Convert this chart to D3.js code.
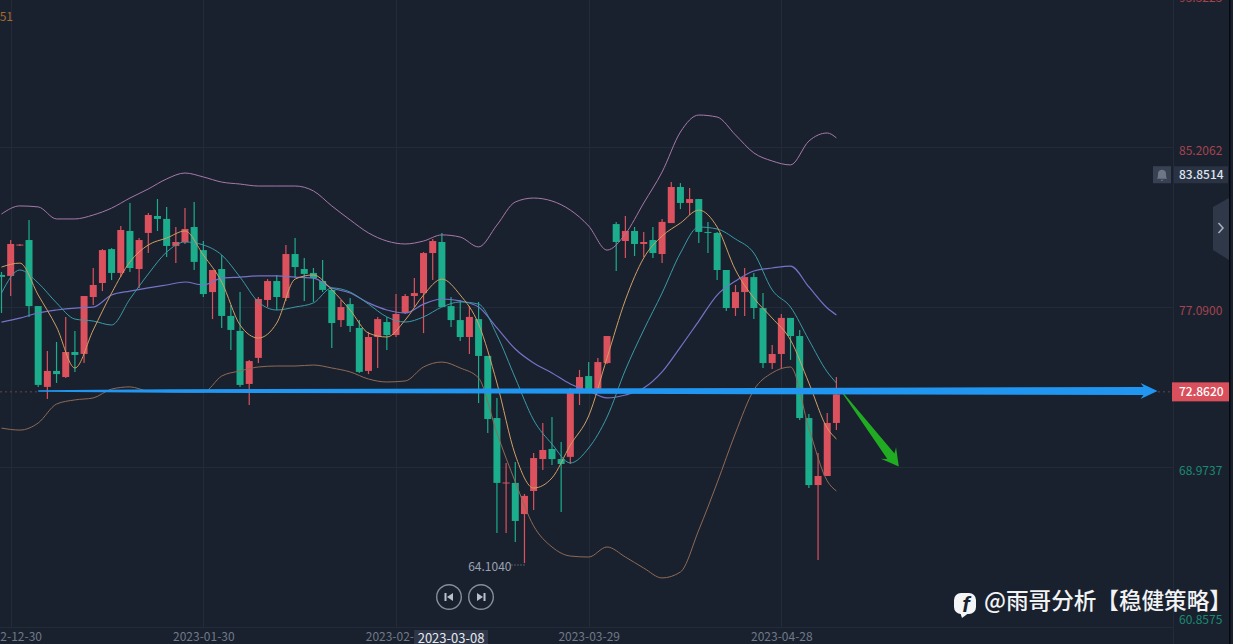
<!DOCTYPE html>
<html><head><meta charset="utf-8">
<style>html,body{margin:0;padding:0;background:#1a212e;overflow:hidden}svg{display:block}text{font-family:"Noto Sans CJK SC","Noto Sans",sans-serif}</style>
<script src="https://cdnjs.cloudflare.com/ajax/libs/d3/7.8.5/d3.min.js"></script>
</head><body><svg id="c" width="1233" height="644"></svg>
<script>
const opens=[78.92,78.87,80.41,80.69,77.34,73.24,74.05,73.74,75.01,74.91,77.80,78.51,80.23,79.02,81.15,79.22,81.05,81.91,81.76,80.39,80.59,81.35,80.18,78.05,79.22,76.84,76.08,73.39,74.71,77.65,78.61,77.75,79.98,79.22,79.02,78.61,78.16,76.63,77.44,76.23,74.05,75.77,76.53,75.87,76.99,77.85,78.00,80.03,80.59,77.34,76.63,75.77,76.68,74.81,71.66,68.34,68.37,66.79,67.96,69.58,70.09,69.58,69.69,73.08,73.79,73.13,74.45,81.50,80.64,81.15,80.49,80.69,79.98,81.55,83.38,82.57,82.77,81.10,81.05,79.17,77.24,78.05,78.81,77.24,74.45,74.91,76.74,75.82,71.66,68.26,68.72,71.41];
const highs=[79.07,80.69,80.49,81.71,77.34,75.06,75.52,76.79,76.08,77.85,79.27,80.23,80.28,81.40,82.57,80.79,82.06,82.77,82.36,81.35,82.31,82.62,80.64,79.17,79.93,77.39,78.05,74.61,77.80,78.71,78.92,80.44,80.79,79.78,79.27,79.68,78.26,77.65,77.75,76.63,76.03,76.79,76.79,77.95,77.95,78.76,80.08,80.74,81.05,77.80,77.65,77.34,77.55,74.81,72.68,69.38,69.43,67.81,69.89,71.41,71.71,70.44,73.18,74.10,74.50,74.71,75.82,81.61,81.91,81.35,81.10,81.35,81.76,83.63,83.58,83.33,82.77,81.61,81.10,79.17,78.41,79.27,79.02,78.00,75.37,76.94,76.74,76.13,71.87,69.89,71.92,73.74];
const lows=[76.99,77.85,80.39,76.79,73.24,72.63,73.44,73.69,74.00,74.45,77.39,78.10,78.66,78.81,79.07,78.26,80.03,81.15,79.83,79.52,80.49,79.17,77.80,76.68,76.23,75.11,73.24,72.32,74.45,77.29,77.14,77.60,78.76,77.60,77.55,78.05,75.21,76.28,76.03,73.95,73.89,74.20,75.11,75.77,76.94,77.29,75.97,78.66,77.29,76.28,75.57,74.91,72.42,70.90,65.83,65.83,65.37,64.30,67.00,69.02,69.28,66.89,69.33,72.32,73.08,73.08,74.40,79.12,79.78,79.88,79.83,79.78,79.52,81.55,82.26,81.96,80.54,80.03,78.66,77.09,76.84,76.84,76.68,74.20,74.15,74.15,74.61,71.56,68.11,64.46,68.72,71.05];
const closes=[78.82,80.49,80.46,77.34,73.34,74.05,73.89,75.01,74.86,77.85,78.41,80.18,79.02,81.20,79.27,80.69,81.96,81.76,80.39,80.59,81.25,79.58,77.95,79.17,76.84,76.13,73.34,74.55,77.70,78.61,77.80,79.98,79.32,78.97,78.76,78.16,76.48,77.29,76.33,74.00,75.77,76.68,75.87,76.94,77.85,78.00,80.03,80.64,77.29,76.63,75.77,76.79,74.81,71.61,68.37,68.39,66.44,67.71,69.63,70.04,69.58,69.33,72.93,73.74,73.08,74.50,75.82,80.59,81.15,80.49,80.59,80.03,81.61,83.38,82.57,82.77,81.10,81.05,79.17,77.24,78.05,78.81,77.24,74.45,74.91,76.74,75.82,71.66,68.26,68.72,71.41,72.86];
const lineIndex=[0,2,4,6,8,10,12,14,16,18,20,22,24,26,28,30,32,34,36,38,40,42,44,46,48,50,52,54,56,58,60,62,64,66,68,70,72,74,76,78,80,82,84,86,88,90,91];
const upperBand=[82.01,82.42,82.37,81.76,81.76,81.96,82.31,82.82,83.28,83.79,84.09,83.89,83.63,83.53,83.43,83.43,83.43,83.18,82.42,81.71,81.05,80.64,80.49,80.64,80.95,80.84,80.34,81.45,82.62,82.82,82.67,82.21,81.40,80.18,81.00,82.57,84.14,86.17,87.03,86.93,86.02,85.11,84.70,84.50,85.71,86.12,85.87];
const midBand=[76.53,76.73,76.99,77.14,77.24,77.29,77.90,78.10,78.26,78.41,78.56,78.41,78.76,78.81,78.87,78.87,78.81,78.76,78.26,78.00,77.50,77.14,76.99,77.44,77.70,77.60,77.29,76.23,75.16,74.45,73.95,73.39,73.03,72.68,72.83,73.18,74.00,75.26,76.58,77.90,78.61,79.12,79.27,79.37,78.31,77.24,76.89];
const lowerBand=[71.15,71.05,71.41,72.37,72.58,72.68,73.13,73.24,73.03,73.00,72.98,72.98,73.79,74.05,74.25,74.30,74.30,74.35,74.20,74.00,73.64,73.49,73.54,74.25,74.50,74.20,73.69,70.90,68.42,66.19,65.12,64.66,64.61,65.12,64.61,64.05,63.55,63.85,65.98,68.37,70.90,73.08,73.95,74.25,71.15,68.47,67.96];
const fastMA=[79.32,79.52,77.90,76.28,74.20,76.13,78.00,79.58,80.44,80.79,81.15,79.93,78.56,76.38,75.72,76.48,78.71,78.92,78.16,77.14,75.97,75.77,76.63,77.90,78.71,77.90,76.43,73.44,69.79,68.11,68.62,70.29,71.77,74.71,77.65,79.78,80.89,81.55,82.21,81.35,79.17,77.75,76.73,75.62,73.44,71.15,70.60];
const slowMA=[78.00,79.17,78.51,77.50,76.68,76.58,76.38,77.70,78.97,80.08,80.59,80.44,79.93,78.81,77.55,77.14,77.29,77.50,78.26,78.05,77.44,76.79,76.53,76.79,77.29,77.55,77.44,75.87,73.69,71.56,70.34,69.38,70.14,71.71,74.10,76.13,78.00,80.03,81.35,81.25,80.74,80.03,78.16,77.29,75.62,74.00,73.44];
const timeTickIndex=[1,22,43,64,85];
const timeTickLabels=["2022-12-30","2023-01-30","2023-02-17","2023-03-29","2023-04-28"];
const priceTicks=[93.3225,85.2062,77.0900,68.9737,60.8575];
const lastPrice=72.8620, alertPrice=83.8514, lowestPrice=64.1040, lowestIndex=57;
const crosshairDate="2023-03-08", crosshairIndex=49;
const levelArrow={fromIndex:4,toIndex:126,price:73.03};
const dropArrow={fromIndex:91.75,toIndex:97.8,fromPrice:72.9,toPrice:69.2};
const watermark="@雨哥分析【稳健策略】";

const svg=d3.select("#c");
const x=d3.scaleLinear().domain([0,91]).range([1.5,836.4]);
const y=d3.scaleLinear().domain([92.866,60.401]).range([0,640]);
const UP="#db515d",DOWN="#1bad8c",GRID="#232b39";
const gridShift=-4;

// grid
const grid=svg.append("g").attr("stroke",GRID).attr("stroke-width",1);
grid.selectAll("line.h").data(priceTicks.slice(1)).join("line").attr("class","h")
  .attr("x1",0).attr("x2",1173).attr("y1",d=>Math.round(y(d)+gridShift)+.5).attr("y2",d=>Math.round(y(d)+gridShift)+.5);
grid.selectAll("line.v").data(timeTickIndex).join("line").attr("class","v")
  .attr("x1",d=>Math.round(x(d))+.5).attr("x2",d=>Math.round(x(d))+.5).attr("y1",0).attr("y2",628);
grid.append("line").attr("x1",1173.5).attr("x2",1173.5).attr("y1",0).attr("y2",644);

// candles
const idx=d3.range(opens.length);
const color=i=>closes[i]>=opens[i]?UP:DOWN;
const candles=svg.append("g");
candles.selectAll("line").data(idx).join("line")
  .attr("x1",i=>x(i)).attr("x2",i=>x(i)).attr("y1",i=>y(highs[i])).attr("y2",i=>y(lows[i]))
  .attr("stroke",color).attr("stroke-width",1.2);
candles.selectAll("rect").data(idx).join("rect")
  .attr("x",i=>x(i)-3.5).attr("width",7)
  .attr("y",i=>y(Math.max(opens[i],closes[i])))
  .attr("height",i=>Math.max(1,y(Math.min(opens[i],closes[i]))-y(Math.max(opens[i],closes[i]))))
  .attr("fill",color);

// indicator lines
const lineGen=d3.line().x((d,i)=>x(lineIndex[i])).y(d=>y(d)).curve(d3.curveMonotoneX);
[[lowerBand,"#8f6a55",1],[upperBand,"#a679a8",1],[midBand,"#7473c8",1.2],[slowMA,"#3a9aa6",1],[fastMA,"#d09f64",1]]
 .forEach(([s,c,w])=>svg.append("path").attr("d",lineGen(s)).attr("fill","none").attr("stroke",c).attr("stroke-width",w));

// last price dotted lead
const lastY=y(lastPrice)-2.5;
svg.append("line").attr("x1",0).attr("x2",38).attr("y1",lastY).attr("y2",lastY).attr("stroke","#6a4049").attr("stroke-dasharray","2 3");
svg.append("line").attr("x1",1158).attr("x2",1172).attr("y1",lastY).attr("y2",lastY).attr("stroke","#6a4049").attr("stroke-dasharray","2 3");

// lowest price marker
const lowX=x(lowestIndex),lowY=y(lowestPrice)-2;
svg.append("line").attr("x1",lowX-13).attr("x2",lowX).attr("y1",lowY).attr("y2",lowY).attr("stroke","#8a93a3").attr("stroke-dasharray","1 2");
svg.append("text").attr("x",lowX-13).attr("y",lowY+2).attr("dy","0.35em").attr("text-anchor","end").attr("font-size",12).attr("fill","#9aa3b2").text(lowestPrice.toFixed(4));

// hand drawn arrows
function poly(pts,fill){svg.append("path").attr("d",d3.line()(pts)+"Z").attr("fill",fill);}
(function(){
  const ax=x(dropArrow.fromIndex),ay=y(dropArrow.fromPrice),tx=x(dropArrow.toIndex),ty=y(dropArrow.toPrice);
  const len=Math.hypot(tx-ax,ty-ay),ux=(tx-ax)/len,uy=(ty-ay)/len,nx=-uy,ny=ux;
  const p=(d,w)=>[ax+ux*d+nx*w,ay+uy*d+ny*w];
  poly([p(0,.5),p(len-13,4.5),p(len-17,9.5),p(len,0),p(len-17,-9.5),p(len-13,-4.5),p(0,-.5)],"#20ab22");
  const x0=x(levelArrow.fromIndex),x1=x(levelArrow.toIndex),c=y(levelArrow.price);
  poly([[x0,c-.8],[x0+130,c-1.8],[x1-14,c-4],[x1-17,c-8],[x1,c],[x1-17,c+8],[x1-14,c+4],[x0+130,c+1.8],[x0,c+.8]],"#2196f0");
})();

// price axis
const pa=svg.append("g");
pa.selectAll("text").data(priceTicks).join("text").attr("x",1179)
  .attr("y",d=>Math.max(-2,Math.min(620,y(d)))).attr("dy","0.35em").attr("font-size",12)
  .attr("fill",d=>d>lastPrice?"#a5444f":"#1a8a72").text(d=>d.toFixed(4));

// time axis
const ta=svg.append("g").attr("transform","translate(0,627)").call(d3.axisBottom(x).tickValues(timeTickIndex).tickFormat((d,i)=>timeTickLabels[i]).tickSize(0));
ta.select(".domain").attr("stroke",GRID).attr("d","M0,0.5H1173");
ta.selectAll("text").attr("y",5).attr("font-size",12).attr("font-family",'"Noto Sans CJK SC"').attr("fill","#6f7989");
const chX=x(crosshairIndex);
svg.append("rect").attr("x",chX-37).attr("y",630).attr("width",74).attr("height",14).attr("fill","#2e3647");
svg.append("text").attr("x",chX).attr("y",638).attr("dy","0.35em").attr("text-anchor","middle").attr("font-size",13).attr("fill","#e6ebf2").text(crosshairDate);

// price badges
const lb=lastY;
svg.append("rect").attr("x",1172).attr("y",lb-9.5).attr("width",57).attr("height",19).attr("fill","#d9505c");
svg.append("text").attr("x",1179).attr("y",lb).attr("dy","0.35em").attr("font-size",12).attr("font-weight",500).attr("fill","#fff").text(lastPrice.toFixed(4));
const ab=y(alertPrice)-3;
svg.append("rect").attr("x",1153).attr("y",ab-8.5).attr("width",18).attr("height",17).attr("fill","#384152");
svg.append("path").attr("transform",`translate(1162,${ab})`).attr("fill","#6c7686")
  .attr("d","M-5,4 C-4,2 -4,1 -4,-1 C-4,-4 -2,-5 0,-5 C2,-5 4,-4 4,-1 C4,1 4,2 5,4 Z M-1.5,5 H1.5 L0,6.5 Z");
svg.append("rect").attr("x",1174).attr("y",ab-8.5).attr("width",54).attr("height",17).attr("fill","#2a3344");
svg.append("text").attr("x",1179).attr("y",ab).attr("dy","0.35em").attr("font-size",12).attr("font-weight",500).attr("fill","#dfe5ee").text(alertPrice.toFixed(4));

// collapse handle + edge
svg.append("path").attr("d","M1229,198 L1213,207 V250 L1229,260 Z").attr("fill","#2f3848");
svg.append("path").attr("d","M1218.5,223 L1223,228 L1218.5,233").attr("fill","none").attr("stroke","#aab2c0").attr("stroke-width",1.5);
svg.append("rect").attr("x",1229).attr("y",0).attr("width",1.5).attr("height",644).attr("fill","#07090d");

// legend fragment top-left
svg.append("text").attr("x",13).attr("y",17).attr("dy","0.35em").attr("text-anchor","end").attr("font-size",12).attr("fill","#a8682f").text("51");

// replay buttons
[[449,-1],[481,1]].forEach(([cx,dir])=>{
  const g=svg.append("g").attr("transform",`translate(${cx},597)`);
  g.append("circle").attr("r",12.3).attr("fill","none").attr("stroke","#858e9d").attr("stroke-width",1.4);
  g.append("path").attr("transform",`scale(${dir},1)`).attr("d","M-4,-4 L2,0 L-4,4 Z M2.5,-4 H4.5 V4 H2.5 Z").attr("fill","#b9c0cb");
});

// watermark
const wm=svg.append("g");
wm.append("rect").attr("x",954).attr("y",593).attr("width",22).attr("height",21).attr("rx",7).attr("fill","#f4f5f7");
wm.append("path").attr("d","M960,612 L962,618 L970,612 Z").attr("fill","#f4f5f7");
wm.append("text").attr("x",966).attr("y",612).attr("text-anchor","middle").attr("font-size",22).attr("font-weight",700).attr("font-style","italic").attr("fill","#1a212e").attr("style","font-family:'Liberation Sans'").text("f");
wm.append("text").attr("x",984).attr("y",601).attr("dy","0.35em").attr("font-size",22.6).attr("font-weight",500).attr("fill","#f2f3f5").text(watermark);
</script></body></html>
